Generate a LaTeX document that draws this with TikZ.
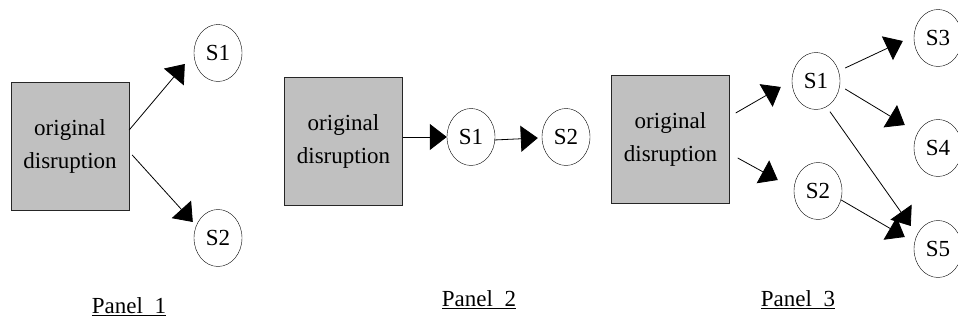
\documentclass[tikz,border=0pt]{standalone}
\usepackage{fontspec}
\setmainfont{Liberation Serif}
\usetikzlibrary{arrows.meta,shapes.geometric}
\definecolor{disruptiongray}{HTML}{C0C0C0}
\tikzset{
	disruption/.style={draw=black!85, fill=disruptiongray, minimum width=118pt, minimum height=128pt, inner sep=0pt, align=center},
	scenario/.style={draw, ellipse, minimum width=48pt, minimum height=57pt, inner sep=0pt},
	panellabel/.style={inner sep=0pt},
	impact/.style={-{Triangle[length=17pt,width=26pt]}, line width=0.8pt},
}

\begin{document}
\begin{tikzpicture}[x=1pt, y=1pt, font=\fontsize{23}{33}\selectfont]
	\useasboundingbox (0,0) rectangle (958,328);

	\node (box1) [disruption] at (70,182) {original\\disruption};
	\node (p1s1) [scenario] at (218,275) {S1};
	\node (p1s2) [scenario] at (218,90) {S2};
	\node (panel1) [panellabel] at (129,21) {\underline{Panel\ \ 1}};
	\draw [impact] ([yshift=16pt]box1.east) -- ([shift={(-9pt,-11pt)}]p1s1.west);
	\draw [impact] ([shift={(3pt,-9pt)}]box1.east) -- ([shift={(-1pt,16pt)}]p1s2.west);

	\node (box2) [disruption] at (343.5,187) {original\\disruption};
	\node (p2s1) [scenario] at (471,191) {S1};
	\node (p2s2) [scenario] at (566,191) {S2};
	\node (panel2) [panellabel] at (479,28) {\underline{Panel\ \ 2}};
	\draw [impact] (box2.east |- p2s1.west) -- (p2s1.west);
	\draw [impact] ([shift={(-1pt,-3pt)}]p2s1.east) -- ([shift={(-4pt,-1pt)}]p2s2.west);

	\node (box3) [disruption] at (670.5,189) {original\\disruption};
	\node (p3s1) [scenario] at (816,247) {S1};
	\node (p3s2) [scenario] at (818,137) {S2};
	\node (p3s3) [scenario] at (938,290) {S3};
	\node (p3s4) [scenario] at (938,180) {S4};
	\node (p3s5) [scenario] at (938,79) {S5};
	\node (panel3) [panellabel] at (798,28) {\underline{Panel\ \ 3}};
	\draw [impact] ([shift={(6pt,26pt)}]box3.east) -- ([shift={(-11pt,-6pt)}]p3s1.west);
	\draw [impact] ([shift={(8pt,-19pt)}]box3.east) -- ([shift={(-16pt,11pt)}]p3s2.west);
	\draw [impact] ([shift={(5pt,13pt)}]p3s1.east) -- ([shift={(-11pt,-3pt)}]p3s3.west);
	\draw [impact] ([shift={(5pt,-8pt)}]p3s1.east) -- ([shift={(-9pt,23pt)}]p3s4.west);
	\draw [impact] ([shift={(14pt,-2pt)}]p3s1.south) -- ([shift={(-3pt,23pt)}]p3s5.west);
	\draw [impact] ([shift={(-1pt,-9pt)}]p3s2.east) -- ([shift={(-9pt,12pt)}]p3s5.west);
\end{tikzpicture}
\end{document}
